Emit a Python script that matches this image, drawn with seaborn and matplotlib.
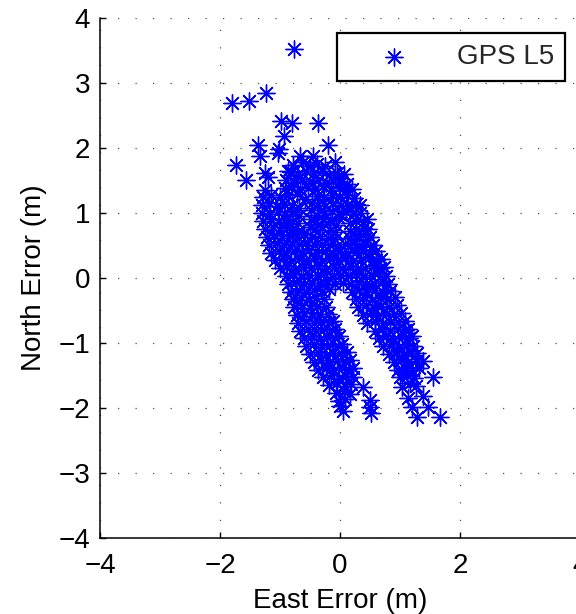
import matplotlib
matplotlib.use("Agg")
import matplotlib.pyplot as plt
import seaborn as sns

# ---- data ----
east_sparse = [-0.77, -1.80, -1.52, -1.23, -0.98, -0.80, -0.37, -0.93, -0.20, -1.37,
               -1.02, -1.33, -1.03, -1.73, -1.57, -1.25, -1.20, -0.87, -0.67, -0.45,
               -0.08, -0.03]
north_sparse = [3.53, 2.69, 2.73, 2.84, 2.42, 2.38, 2.38, 2.18, 2.05, 2.04,
                1.98, 1.88, 1.93, 1.74, 1.51, 1.62, 1.56, 1.64, 1.87, 1.88,
                1.79, 1.56]

east_upper = [-0.78, -0.62, -0.50, -0.38, -0.25,
              -0.82, -0.70, -0.56, -0.44, -0.30, -0.18, -0.05, 0.06,
              -0.90, -0.76, -0.63, -0.50, -0.37, -0.24, -0.11, 0.02, 0.12,
              -1.25, -0.92, -0.80, -0.67, -0.54, -0.41, -0.28, -0.15, -0.02, 0.10, 0.20,
              -1.28, -1.15, -1.00, -0.86, -0.72, -0.58, -0.38, -0.26, -0.13, 0.00, 0.12, 0.24,
              -1.30, -1.18, -1.05, -0.93, -0.80, -0.68, -0.47, -0.37, -0.25, -0.12, 0.01, 0.13, 0.26, 0.34,
              -1.30, -1.17, -1.04, -0.92, -0.80, -0.69, -0.48, -0.38, -0.26, -0.14, -0.02, 0.10, 0.22, 0.34,
              -1.28, -1.15, -1.02, -0.90, -0.80, -0.70, -0.49, -0.40, -0.28, -0.16, -0.07, 0.16, 0.26, 0.38, 0.45, -0.03,
              -1.25, -1.12, -1.00, -0.88, -0.78, -0.70, -0.50, -0.42, -0.30, -0.17, -0.09, 0.17, 0.27, 0.38, 0.47,
              -1.22, -1.10, -0.97, -0.84, -0.72, -0.60, -0.46, -0.33, -0.20, -0.09, 0.16, 0.26, 0.38, 0.50]
north_upper = [1.74, 1.78, 1.72, 1.76, 1.73,
               1.63, 1.60, 1.65, 1.61, 1.64, 1.59, 1.62, 1.60,
               1.50, 1.47, 1.52, 1.49, 1.51, 1.46, 1.50, 1.48, 1.45,
               1.36, 1.38, 1.40, 1.35, 1.39, 1.37, 1.41, 1.36, 1.38, 1.35, 1.37,
               1.25, 1.28, 1.24, 1.27, 1.29, 1.22, 1.26, 1.24, 1.28, 1.25, 1.27, 1.23,
               1.12, 1.15, 1.10, 1.14, 1.12, 1.08, 1.16, 1.13, 1.11, 1.15, 1.12, 1.10, 1.14, 1.12,
               1.00, 0.98, 1.02, 0.99, 1.01, 0.96, 1.04, 0.97, 1.00, 1.03, 0.98, 1.01, 0.99, 1.00,
               0.87, 0.90, 0.86, 0.89, 0.88, 0.84, 0.91, 0.86, 0.90, 0.87, 0.82, 0.85, 0.88, 0.86, 0.90, 0.94,
               0.75, 0.78, 0.74, 0.77, 0.76, 0.72, 0.79, 0.75, 0.78, 0.74, 0.70, 0.73, 0.76, 0.77, 0.75,
               0.63, 0.66, 0.62, 0.65, 0.64, 0.67, 0.63, 0.65, 0.62, 0.60, 0.61, 0.64, 0.66, 0.63]

east_middle = [-1.18, -1.05, -0.93, -0.80, -0.68, -0.55, -0.42, -0.30, -0.17, -0.05, 0.08, 0.20, 0.32, 0.44, 0.55,
               -1.15, -1.02, -0.90, -0.77, -0.64, -0.51, -0.38, -0.25, -0.12, 0.00, 0.13, 0.26, 0.38, 0.50, 0.60,
               -1.08, -0.95, -0.82, -0.69, -0.56, -0.43, -0.30, -0.17, -0.04, 0.09, 0.22, 0.35, 0.48, 0.60, 0.68,
               -1.00, -0.88, -0.75, -0.62, -0.49, -0.36, -0.23, -0.10, 0.03, 0.16, 0.29, 0.42, 0.55, 0.66, 0.74,
               -0.90, -0.78, -0.65, -0.52, -0.39, -0.26, -0.13, 0.00, 0.13, 0.26, 0.39, 0.52, 0.64, 0.76,
               -0.86, -0.73, -0.60, -0.47, -0.34, -0.21, -0.08, 0.05, 0.18, 0.31, 0.44, 0.57, 0.70, 0.80,
               -0.82, -0.69, -0.56, -0.43, -0.30, -0.19, 0.20, 0.32, 0.45, 0.58, 0.71, 0.84]
north_middle = [0.51, 0.54, 0.50, 0.53, 0.52, 0.55, 0.50, 0.53, 0.51, 0.49, 0.52, 0.54, 0.50, 0.53, 0.51,
                0.39, 0.42, 0.38, 0.41, 0.40, 0.43, 0.38, 0.41, 0.39, 0.42, 0.38, 0.40, 0.43, 0.39, 0.41,
                0.27, 0.30, 0.26, 0.29, 0.28, 0.31, 0.26, 0.29, 0.27, 0.30, 0.26, 0.28, 0.31, 0.27, 0.29,
                0.15, 0.18, 0.14, 0.17, 0.16, 0.19, 0.14, 0.17, 0.15, 0.18, 0.14, 0.16, 0.19, 0.15, 0.17,
                0.03, 0.06, 0.02, 0.05, 0.04, 0.07, 0.02, 0.05, 0.03, 0.06, 0.02, 0.04, 0.07, 0.03,
                -0.09, -0.06, -0.10, -0.07, -0.08, -0.05, -0.10, -0.07, -0.09, -0.06, -0.10, -0.08, -0.05, -0.09,
                -0.21, -0.18, -0.22, -0.19, -0.20, -0.17, -0.22, -0.19, -0.21, -0.18, -0.22, -0.20]

east_lower = [-0.78, -0.65, -0.52, -0.40, -0.27, 0.27, 0.40, 0.53, 0.66, 0.79, 0.92,
              -0.76, -0.63, -0.50, -0.38, -0.24, 0.30, 0.43, 0.56, 0.69, 0.82, 0.95,
              -0.72, -0.60, -0.47, -0.34, -0.20, 0.38, 0.51, 0.64, 0.77, 0.90, 1.02,
              -0.70, -0.57, -0.44, -0.31, -0.18, -0.12, 0.45, 0.58, 0.71, 0.84, 0.97, 1.08,
              -0.66, -0.53, -0.40, -0.27, -0.14, -0.08, 0.58, 0.70, 0.83, 0.96, 1.08, 1.14,
              -0.60, -0.47, -0.34, -0.21, -0.08, -0.02, 0.65, 0.77, 0.90, 1.03, 1.15, 1.20,
              -0.56, -0.43, -0.30, -0.17, -0.04, 0.04, 0.72, 0.85, 0.98, 1.10, 1.22,
              -0.50, -0.37, -0.24, -0.11, 0.02, 0.12, 0.82, 0.94, 1.06, 1.18, 1.29,
              -0.44, -0.31, -0.18, -0.05, 0.08, 0.17, 0.90, 1.02, 1.14, 1.26, 1.38,
              -0.36, -0.23, -0.10, 0.03, 0.14, 0.22, 0.96, 1.08, 1.20, 1.32,
              -0.28, -0.15, -0.02, 0.10, 0.22, 1.00, 1.12, 1.24, 1.55,
              -0.18, -0.05, 0.08, 0.19, 0.38, 1.03, 1.16, 1.27,
              -0.06, 0.06, 0.16, 1.13, 1.38,
              -0.02, 0.08, 0.50, 1.20,
              0.05, 0.00, 0.50, 0.52, 1.28, 1.67, 1.47]
north_lower = [-0.33, -0.30, -0.34, -0.31, -0.32, -0.33, -0.30, -0.34, -0.31, -0.32, -0.30,
               -0.45, -0.42, -0.46, -0.43, -0.44, -0.45, -0.42, -0.46, -0.43, -0.44, -0.42,
               -0.57, -0.54, -0.58, -0.55, -0.56, -0.57, -0.54, -0.58, -0.55, -0.56, -0.54,
               -0.69, -0.66, -0.70, -0.67, -0.68, -0.66, -0.69, -0.66, -0.70, -0.67, -0.68, -0.66,
               -0.81, -0.78, -0.82, -0.79, -0.80, -0.78, -0.81, -0.78, -0.82, -0.79, -0.80, -0.78,
               -0.93, -0.90, -0.94, -0.91, -0.92, -0.90, -0.93, -0.90, -0.94, -0.91, -0.92, -0.90,
               -1.05, -1.02, -1.06, -1.03, -1.04, -1.02, -1.05, -1.02, -1.06, -1.03, -1.04,
               -1.17, -1.14, -1.18, -1.15, -1.16, -1.14, -1.17, -1.14, -1.18, -1.15, -1.16,
               -1.29, -1.26, -1.30, -1.27, -1.28, -1.26, -1.29, -1.26, -1.30, -1.27, -1.27,
               -1.41, -1.38, -1.42, -1.39, -1.40, -1.38, -1.41, -1.38, -1.42, -1.39,
               -1.53, -1.50, -1.54, -1.51, -1.52, -1.53, -1.50, -1.54, -1.53,
               -1.65, -1.62, -1.66, -1.63, -1.68, -1.68, -1.62, -1.66,
               -1.77, -1.74, -1.78, -1.85, -1.81,
               -1.89, -1.86, -1.88, -1.98,
               -2.04, -1.97, -1.99, -2.08, -2.14, -2.14, -1.99]

east_error = east_sparse + east_upper + east_middle + east_lower
north_error = north_sparse + north_upper + north_middle + north_lower

x_ticks = [-4, -2, 0, 2, 4]
y_ticks = [-4, -3, -2, -1, 0, 1, 2, 3, 4]
series_label = "GPS L5"
x_label = "East Error (m)"
y_label = "North Error (m)"

# ---- styling ----
sns.set_theme(style="white")
plt.rcParams["font.family"] = ["Liberation Sans", "DejaVu Sans"]
plt.rcParams["font.size"] = 20

fig = plt.figure(figsize=(5.76, 6.14), dpi=100)
ax = fig.add_axes([100 / 576, 1 - 538 / 614, 480 / 576, 520 / 614])

sns.scatterplot(x=east_error, y=north_error, ax=ax, marker=(8, 2, 0), s=150,
                color="#0000ff", edgecolor="#0000ff", linewidth=1.0,
                label=series_label, zorder=3, clip_on=False)

ax.set_xlim(-4, 4)
ax.set_ylim(-4, 4)
ax.set_xticks(x_ticks)
ax.set_yticks(y_ticks)
ax.grid(True, color="0.3", linestyle=(0, (1, 13)), linewidth=0.9)
ax.set_axisbelow(True)

for side in ["top", "right"]:
    ax.spines[side].set_visible(False)
for side in ["left", "bottom"]:
    ax.spines[side].set_color("black")
    ax.spines[side].set_linewidth(1.1)

ax.tick_params(axis="both", direction="in", length=4, width=1, colors="black",
               labelsize=20, left=True, bottom=True)
ax.tick_params(axis="x", pad=11)
ax.tick_params(axis="y", pad=7)

ax.set_xlabel(x_label, fontsize=20, color="black", labelpad=6)
ax.set_ylabel(y_label, fontsize=20, color="black", labelpad=8)

leg = ax.legend(loc="upper right", bbox_to_anchor=(565 / 576, 1 - 33 / 614),
                bbox_transform=fig.transFigure, fontsize=20, frameon=True,
                fancybox=False, borderpad=0.4, handlelength=3.3, handletextpad=0.6,
                borderaxespad=0)
leg.get_frame().set_edgecolor("black")
leg.get_frame().set_linewidth(1.6)
leg.get_frame().set_facecolor("white")
leg.get_frame().set_alpha(1)

fig.savefig("out.png", dpi=100)
